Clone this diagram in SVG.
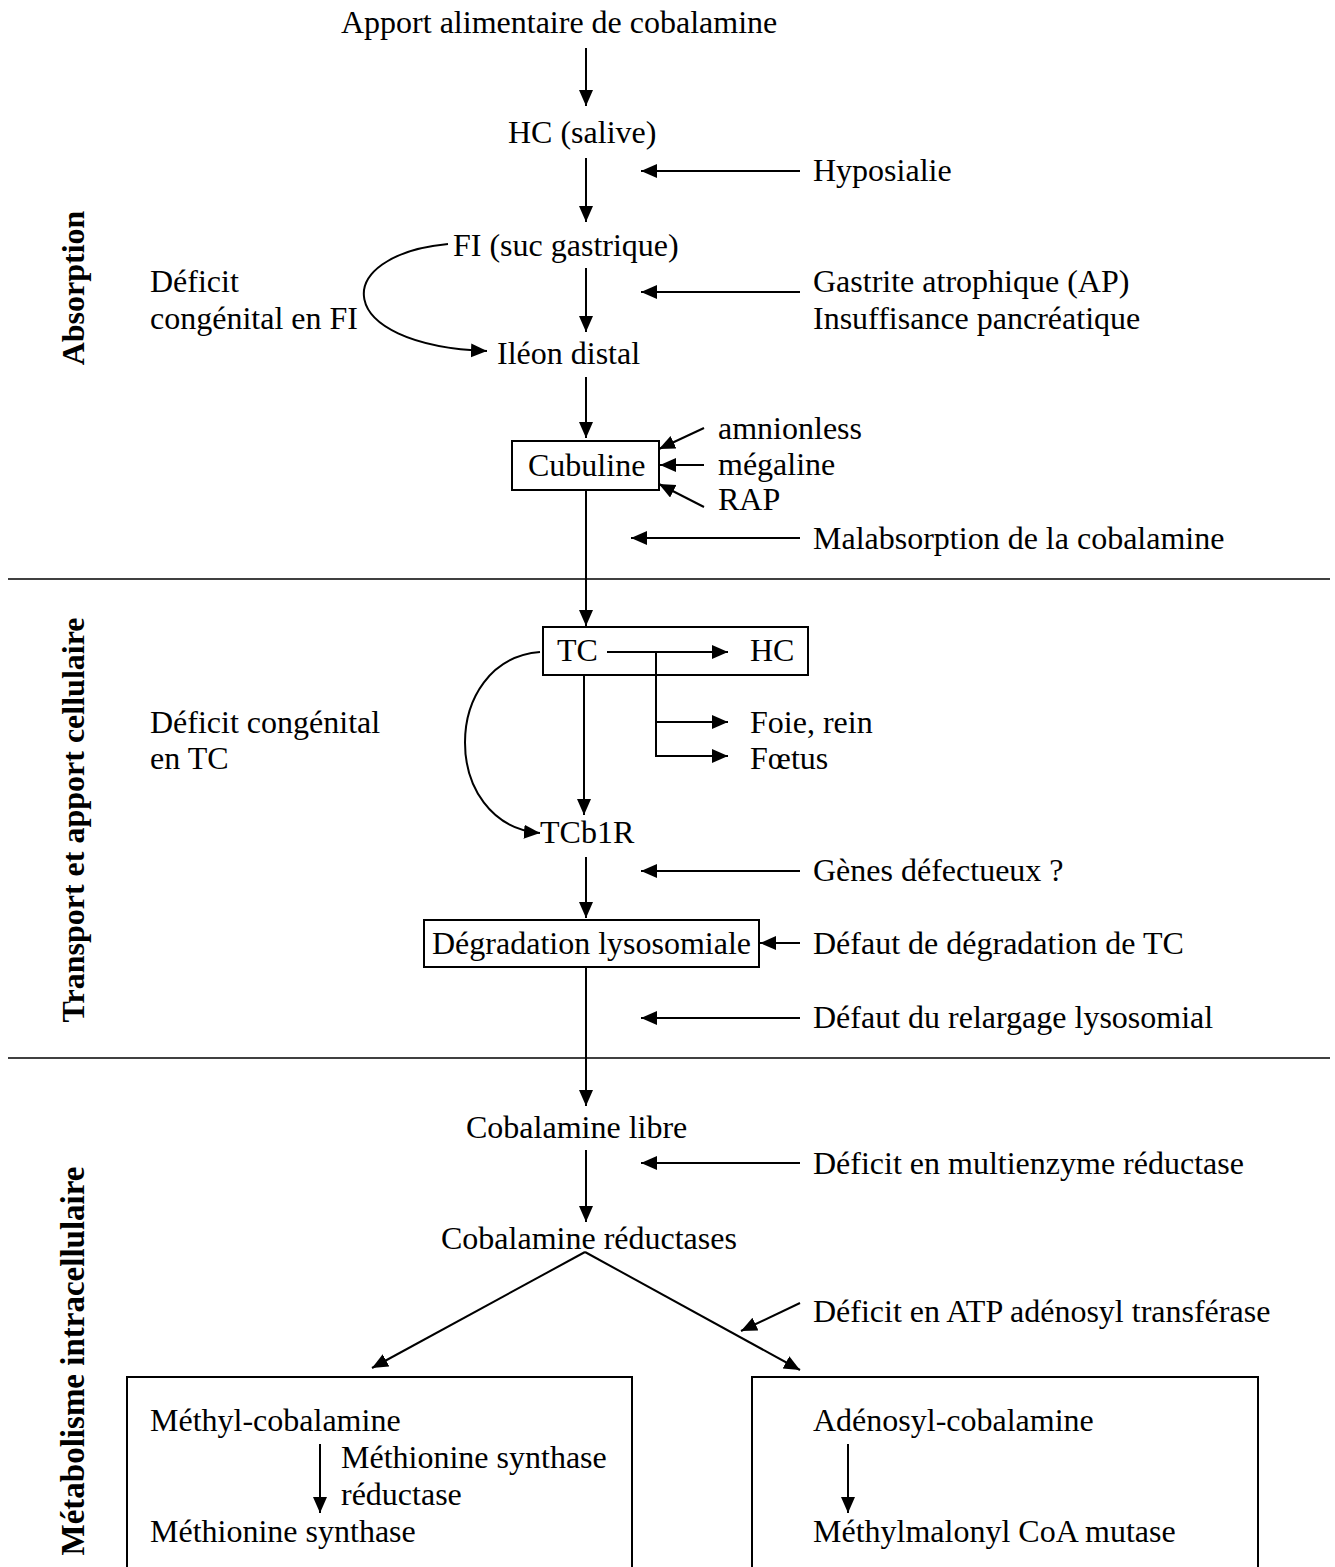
<svg xmlns="http://www.w3.org/2000/svg" width="1335" height="1567" viewBox="0 0 1335 1567">
<style>
text{font-family:"Liberation Serif","Times New Roman",serif;font-size:32px;fill:#000}
.side{font-weight:bold;text-anchor:middle}
.ln{stroke:#000;stroke-width:2;fill:none}
.ar{stroke:#000;stroke-width:2;fill:none;marker-end:url(#ah)}
.box{stroke:#000;stroke-width:2;fill:none}
.sep{stroke:#000;stroke-width:1.5}
</style>
<defs>
<marker id="ah" markerUnits="userSpaceOnUse" markerWidth="18" markerHeight="16" refX="16" refY="7" orient="auto">
<path d="M0,0 L16,7 L0,14 z" fill="#000"/>
</marker>
</defs>
<rect width="1335" height="1567" fill="#fff"/>

<g id="sections">
<line class="sep" x1="8" y1="579" x2="1330" y2="579"/>
<line class="sep" x1="8" y1="1058" x2="1330" y2="1058"/>
<text class="side" transform="translate(84,288) rotate(-90)">Absorption</text>
<text class="side" transform="translate(84,820) rotate(-90)">Transport et apport cellulaire</text>
<text class="side" transform="translate(84,1361) rotate(-90)" style="font-size:33px">Métabolisme intracellulaire</text>
</g>

<g id="connectors">
<line class="ar" x1="586" y1="48" x2="586" y2="106"/>
<line class="ar" x1="586" y1="158" x2="586" y2="222"/>
<line class="ar" x1="800" y1="171" x2="641" y2="171"/>
<line class="ar" x1="586" y1="268" x2="586" y2="332"/>
<line class="ar" x1="800" y1="292" x2="641" y2="292"/>
<path class="ar" d="M448,244 C330,255 330,345 487,351"/>
<line class="ar" x1="586" y1="377" x2="586" y2="438"/>
<line class="ar" x1="704" y1="428" x2="659" y2="449"/>
<line class="ar" x1="704" y1="465" x2="660" y2="465"/>
<line class="ar" x1="704" y1="507" x2="659" y2="484"/>
<line class="ar" x1="586" y1="490" x2="586" y2="626"/>
<line class="ar" x1="800" y1="538" x2="631" y2="538"/>
<line class="ar" x1="607" y1="652" x2="728" y2="652"/>
<line class="ln" x1="656" y1="652" x2="656" y2="756"/>
<line class="ar" x1="656" y1="722" x2="728" y2="722"/>
<line class="ar" x1="655" y1="756" x2="728" y2="756"/>
<line class="ar" x1="584" y1="675" x2="584" y2="815"/>
<path class="ar" d="M540,652 C440,660 440,825 540,833"/>
<line class="ar" x1="800" y1="871" x2="641" y2="871"/>
<line class="ar" x1="586" y1="857" x2="586" y2="918"/>
<line class="ar" x1="800" y1="943" x2="760" y2="943"/>
<line class="ar" x1="586" y1="967" x2="586" y2="1106"/>
<line class="ar" x1="800" y1="1018" x2="641" y2="1018"/>
<line class="ar" x1="586" y1="1150" x2="586" y2="1222"/>
<line class="ar" x1="800" y1="1163" x2="641" y2="1163"/>
<line class="ar" x1="585" y1="1252" x2="372" y2="1368"/>
<line class="ar" x1="585" y1="1252" x2="800" y2="1370"/>
<line class="ar" x1="800" y1="1303" x2="741" y2="1331"/>
</g>

<g id="n-apport"><text x="341" y="33">Apport alimentaire de cobalamine</text></g>
<g id="n-hc-salive"><text x="508" y="143">HC (salive)</text></g>
<g id="n-hyposialie"><text x="813" y="181">Hyposialie</text></g>
<g id="n-fi"><text x="453" y="256">FI (suc gastrique)</text></g>
<g id="n-deficit-fi"><text x="150" y="292">Déficit</text><text x="150" y="329">congénital en FI</text></g>
<g id="n-gastrite"><text x="813" y="292">Gastrite atrophique (AP)</text><text x="813" y="329">Insuffisance pancréatique</text></g>
<g id="n-ileon"><text x="497" y="364">Iléon distal</text></g>
<g id="n-cubuline"><rect class="box" x="512" y="441" width="147" height="49"/><text x="528" y="476">Cubuline</text></g>
<g id="n-amnionless"><text x="718" y="439">amnionless</text></g>
<g id="n-megaline"><text x="718" y="475">mégaline</text></g>
<g id="n-rap"><text x="718" y="510">RAP</text></g>
<g id="n-malabsorption"><text x="813" y="549">Malabsorption de la cobalamine</text></g>

<g id="n-tc"><rect class="box" x="543" y="627" width="265" height="48"/><text x="557" y="661">TC</text><text x="750" y="661">HC</text></g>
<g id="n-foie"><text x="750" y="733">Foie, rein</text></g>
<g id="n-foetus"><text x="750" y="769">Fœtus</text></g>
<g id="n-deficit-tc"><text x="150" y="733">Déficit congénital</text><text x="150" y="769">en TC</text></g>
<g id="n-tcb1r"><text x="540" y="843">TCb1R</text></g>
<g id="n-genes"><text x="813" y="881">Gènes défectueux ?</text></g>
<g id="n-degradation"><rect class="box" x="424" y="920" width="335" height="47"/><text x="432" y="954">Dégradation lysosomiale</text></g>
<g id="n-defaut-degradation"><text x="813" y="954">Défaut de dégradation de TC</text></g>
<g id="n-defaut-relargage"><text x="813" y="1028">Défaut du relargage lysosomial</text></g>

<g id="n-cobalamine-libre"><text x="466" y="1138">Cobalamine libre</text></g>
<g id="n-multienzyme"><text x="813" y="1174">Déficit en multienzyme réductase</text></g>
<g id="n-reductases"><text x="441" y="1249">Cobalamine réductases</text></g>
<g id="n-atp"><text x="813" y="1322">Déficit en ATP adénosyl transférase</text></g>

<g id="n-methyl">
<rect class="box" x="127" y="1377" width="505" height="200"/>
<text x="150" y="1431">Méthyl-cobalamine</text>
<line class="ar" x1="320" y1="1444" x2="320" y2="1513"/>
<text x="341" y="1468">Méthionine synthase</text>
<text x="341" y="1505">réductase</text>
<text x="150" y="1542">Méthionine synthase</text>
</g>
<g id="n-adenosyl">
<rect class="box" x="752" y="1377" width="506" height="200"/>
<text x="813" y="1431">Adénosyl-cobalamine</text>
<line class="ar" x1="848" y1="1444" x2="848" y2="1513"/>
<text x="813" y="1542">Méthylmalonyl CoA mutase</text>
</g>
</svg>
